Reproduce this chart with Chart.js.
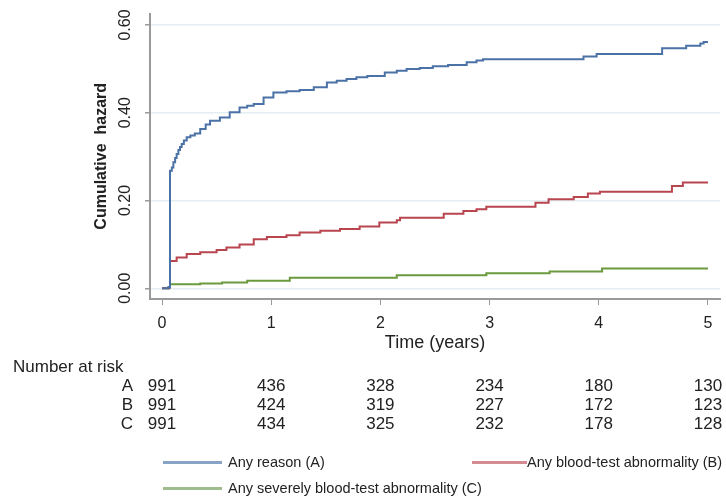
<!DOCTYPE html>
<html><head><meta charset="utf-8">
<script src="https://cdn.jsdelivr.net/npm/chart.js@4"></script>
<style>
html,body{margin:0;padding:0;background:#fff;}
#wrap{position:relative;width:726px;height:504px;overflow:hidden;font-family:"Liberation Sans",Arial,sans-serif;color:#222;}
canvas{position:absolute;left:0;top:0;}
.t{position:absolute;white-space:nowrap;line-height:1;}
.sw{position:absolute;height:3px;}
</style></head><body>
<div id="wrap"><canvas id="c" width="726" height="504"></canvas></div>
<script>
// ---- data ----
const seriesLabels = ['Any reason (A)', 'Any blood-test abnormality (B)', 'Any severely blood-test abnormality (C)'];
const groupLetters = ['A', 'B', 'C'];

const timeA = [0, 0.06, 0.073, 0.09, 0.104, 0.12, 0.134, 0.15, 0.165, 0.18, 0.2, 0.226, 0.26, 0.30, 0.35, 0.40, 0.44, 0.53, 0.62, 0.71, 0.78, 0.84, 0.93, 1.02, 1.14, 1.26, 1.39, 1.51, 1.60, 1.69, 1.78, 1.88, 2.04, 2.15, 2.24, 2.36, 2.48, 2.62, 2.79, 2.88, 2.94, 3.86, 3.98, 4.58, 4.80, 4.93, 4.96, 5.0];
const hazA  = [0, 0.003, 0.268, 0.275, 0.287, 0.297, 0.306, 0.315, 0.322, 0.329, 0.337, 0.344, 0.348, 0.353, 0.363, 0.373, 0.382, 0.389, 0.401, 0.412, 0.416, 0.42, 0.435, 0.446, 0.449, 0.452, 0.458, 0.469, 0.473, 0.477, 0.481, 0.484, 0.492, 0.496, 0.500, 0.502, 0.506, 0.509, 0.515, 0.519, 0.522, 0.528, 0.534, 0.547, 0.553, 0.558, 0.561, 0.561];

const timeB = [0, 0.06, 0.073, 0.134, 0.226, 0.35, 0.50, 0.59, 0.71, 0.84, 0.96, 1.14, 1.26, 1.45, 1.63, 1.81, 1.99, 2.15, 2.18, 2.58, 2.76, 2.88, 2.97, 3.42, 3.54, 3.77, 3.90, 4.01, 4.67, 4.77, 5.0];
const hazB  = [0, 0.002, 0.062, 0.070, 0.078, 0.082, 0.087, 0.093, 0.100, 0.112, 0.117, 0.121, 0.127, 0.131, 0.135, 0.141, 0.150, 0.155, 0.161, 0.170, 0.176, 0.180, 0.186, 0.195, 0.203, 0.208, 0.216, 0.220, 0.233, 0.241, 0.241];

const timeC = [0, 0.06, 0.073, 0.35, 0.55, 0.78, 1.17, 2.15, 2.97, 3.55, 4.03, 5.0];
const hazC  = [0, 0.002, 0.009, 0.011, 0.013, 0.017, 0.024, 0.030, 0.034, 0.038, 0.045, 0.045];

const xTicks = [0, 1, 2, 3, 4, 5];
const yTicks = [0, 0.2, 0.4, 0.6];

const riskTimes = [0, 1, 2, 3, 4, 5];
const riskA = [991, 436, 328, 234, 180, 130];
const riskB = [991, 424, 319, 227, 172, 123];
const riskC = [991, 434, 325, 232, 178, 128];

// ---- chart ----
const FONT = '"Liberation Sans", Arial, sans-serif';
const lineColors = ['#4a72a6', '#b9454f', '#6b9a3e'];
const legendColors = ['#87a3c6', '#d48b92', '#9fbd8c'];
const pts = (ts, vs) => ts.map((t, i) => ({x: t, y: vs[i]}));

const chart = new Chart(document.getElementById('c'), {
  type: 'line',
  data: {
    datasets: [
      {label: seriesLabels[0], data: pts(timeA, hazA), borderColor: lineColors[0], borderWidth: 2, stepped: 'before', pointRadius: 0, fill: false},
      {label: seriesLabels[1], data: pts(timeB, hazB), borderColor: lineColors[1], borderWidth: 2, stepped: 'before', pointRadius: 0, fill: false},
      {label: seriesLabels[2], data: pts(timeC, hazC), borderColor: lineColors[2], borderWidth: 2, stepped: 'before', pointRadius: 0, fill: false}
    ]
  },
  options: {
    responsive: false,
    animation: false,
    layout: {padding: {left: 0, right: 6, top: 13, bottom: 150}},
    plugins: {legend: {display: false}, tooltip: {enabled: false}},
    scales: {
      x: {
        type: 'linear', min: -0.11, max: 5.11,
        afterBuildTicks: s => { s.ticks = xTicks.map(v => ({value: v})); },
        afterFit: s => { s.height = 55; },
        border: {display: true, color: '#9a9a9a', width: 2},
        grid: {drawOnChartArea: false, drawTicks: true, tickLength: 6, tickColor: '#9a9a9a', tickWidth: 1},
        ticks: {font: {family: FONT, size: 16}, color: '#222', padding: 9, maxRotation: 0, autoSkip: false, callback: v => String(v)},
        title: {display: true, text: 'Time (years)', font: {family: FONT, size: 18}, color: '#222', padding: {top: 0, bottom: 0}}
      },
      y: {
        min: -0.0244, max: 0.626,
        afterBuildTicks: s => { s.ticks = yTicks.map(v => ({value: v})); },
        afterFit: s => { s.width = 150; },
        border: {display: true, color: '#9a9a9a', width: 2},
        grid: {color: '#e4eef2', lineWidth: 1.5, tickColor: '#9a9a9a', tickLength: 5, drawTicks: true},
        ticks: {font: {family: FONT, size: 16}, color: '#222', minRotation: 90, maxRotation: 90, crossAlign: 'center', padding: 4, autoSkip: false, callback: v => v.toFixed(2)},
        title: {display: true, text: 'Cumulative  hazard', font: {family: FONT, size: 16, weight: 'bold'}, color: '#222', padding: {top: 92, bottom: 0}}
      }
    }
  }
});

// ---- number-at-risk table and legend (HTML text) ----
const wrap = document.getElementById('wrap');
function addText(txt, x, y, align, size) {
  const d = document.createElement('div');
  d.className = 't';
  d.textContent = txt;
  d.style.fontSize = size + 'px';
  d.style.left = x + 'px';
  d.style.top = y + 'px';
  const tx = align === 'center' ? '-50%' : (align === 'right' ? '-100%' : '0');
  d.style.transform = 'translate(' + tx + ',-50%)';
  wrap.appendChild(d);
  return d;
}
function addSwatch(x1, x2, y, color) {
  const s = document.createElement('div');
  s.className = 'sw';
  s.style.left = x1 + 'px';
  s.style.width = (x2 - x1) + 'px';
  s.style.top = (y - 1.5) + 'px';
  s.style.background = color;
  wrap.appendChild(s);
}

const xs = chart.scales.x;
addText('Number at risk', 13, 366, 'left', 17);
const rows = [riskA, riskB, riskC];
rows.forEach((row, r) => {
  const y = 385 + r * 19;
  addText(groupLetters[r], 133, y, 'right', 17);
  row.forEach((n, j) => addText(String(n), xs.getPixelForValue(riskTimes[j]), y, 'center', 17));
});

addSwatch(163, 222, 462, legendColors[0]);
addText(seriesLabels[0], 228, 462, 'left', 14.5);
addSwatch(472, 527, 462, legendColors[1]);
addText(seriesLabels[1], 527, 462, 'left', 14.5);
addSwatch(163, 222, 488, legendColors[2]);
addText(seriesLabels[2], 228, 488, 'left', 14.5);
</script>
</body></html>
